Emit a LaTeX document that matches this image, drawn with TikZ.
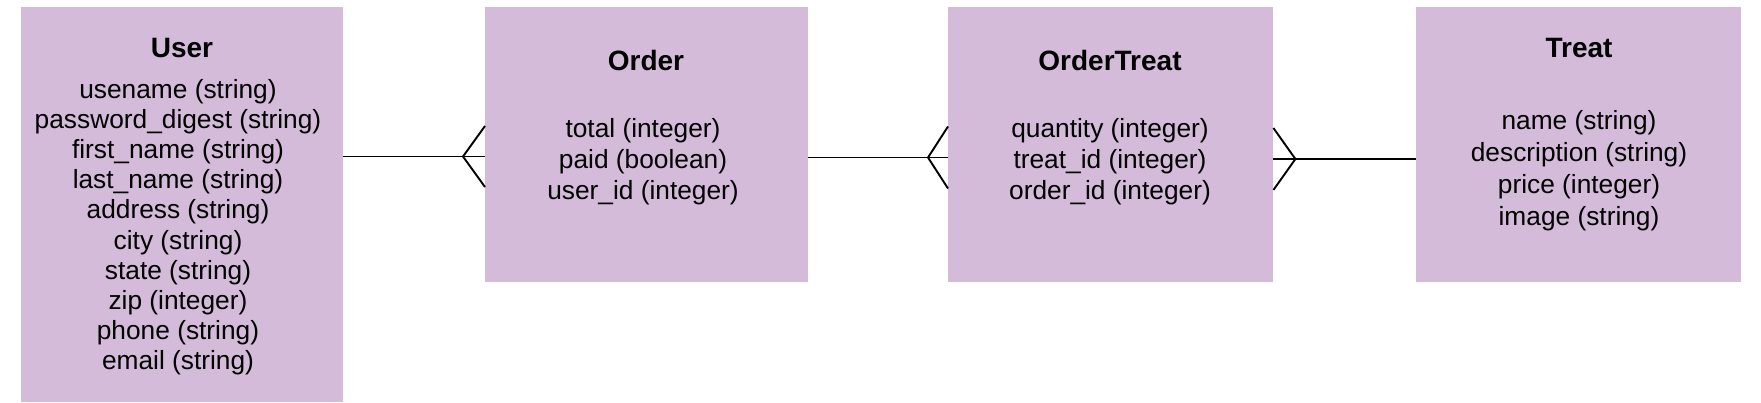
\documentclass[tikz,border=0pt]{standalone}
\usepackage{fontspec}
\setmainfont{Liberation Sans}
\usetikzlibrary{calc}
\definecolor{boxfill}{HTML}{D5BBDA}
\begin{document}
\begin{tikzpicture}[x=1pt,y=-1pt,
  entity/.style={fill=boxfill, draw=none, inner sep=0pt, anchor=north west, minimum height=275pt},
  etitle/.style={font=\fontsize{28}{30}\selectfont\bfseries, anchor=base, inner sep=0pt},
  attr/.style={font=\fontsize{26.3}{30}\selectfont, anchor=base, inner sep=0pt},
  conn/.style={line width=1.9pt, black}]
\useasboundingbox (0,0) rectangle (1761,402);
% entities
\node[entity, minimum width=322pt, minimum height=395pt] (user) at (21,7) {};
\node[entity, minimum width=323pt] (order) at (485,7) {};
\node[entity, minimum width=325pt] (ordertreat) at (948,7) {};
\node[entity, minimum width=325pt] (treat) at (1416,7) {};
% titles
\node[etitle] (userT) at (182,57) {User};
\node[etitle] (orderT) at (646,70) {Order};
\node[etitle] (otT) at (1110,70) {OrderTreat};
\node[etitle] (treatT) at (1579,57) {Treat};
% attributes
\foreach \t [count=\i] in {usename (string), password\_digest (string), first\_name (string), last\_name (string), address (string), city (string), state (string), zip (integer), phone (string), email (string)}
  \node[attr] (u\i) at (178,{98+30.2*(\i-1)}) {\t};
\foreach \t [count=\i] in {total (integer), paid (boolean), user\_id (integer)}
  \node[attr] (o\i) at (643,{137.5+31*(\i-1)}) {\t};
\foreach \t [count=\i] in {quantity (integer), treat\_id (integer), order\_id (integer)}
  \node[attr] (ot\i) at (1110,{137.5+31*(\i-1)}) {\t};
\foreach \t [count=\i] in {name (string), description (string), price (integer), image (string)}
  \node[attr] (tr\i) at (1579,{129+32*(\i-1)}) {\t};
% connectors
\coordinate (uoEnd) at ($(order.north west)+(0,149.5)$);
\draw[conn] (user.east |- uoEnd) -- (uoEnd);
\draw[conn] ($(uoEnd)+(0,-30.5)$) -- ($(uoEnd)+(-22,0)$) -- ($(uoEnd)+(0,30.5)$);
\coordinate (ooEnd) at ($(ordertreat.north west)+(0,150.5)$);
\draw[conn] (order.east |- ooEnd) -- (ooEnd);
\draw[conn] ($(ooEnd)+(0,-31)$) -- ($(ooEnd)+(-20,0)$) -- ($(ooEnd)+(0,31)$);
\coordinate (otStart) at ($(ordertreat.north east)+(0,152)$);
\draw[conn] (otStart) -- (treat.west |- otStart);
\draw[conn] ($(otStart)+(0,-31)$) -- ($(otStart)+(22,0)$) -- ($(otStart)+(0,31)$);
\end{tikzpicture}
\end{document}
